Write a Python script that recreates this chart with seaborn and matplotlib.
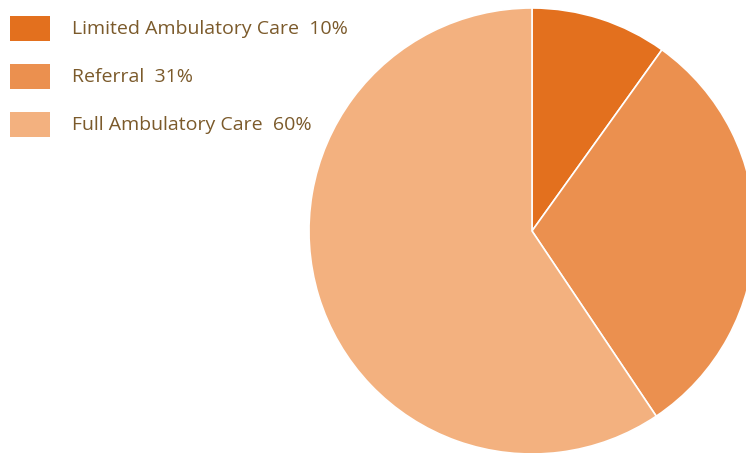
import matplotlib
matplotlib.use("Agg")
import matplotlib.pyplot as plt
from matplotlib.patches import Rectangle
import seaborn as sns

# --- data ------------------------------------------------------------
categories = ["Limited Ambulatory Care", "Referral", "Full Ambulatory Care"]
shares = [10, 31, 60]
colors = ["#E3701E", "#EB904F", "#F3B17F"]
text_color = "#7B5A2B"

sns.set_theme(style="white")
plt.rcParams["font.family"] = ["Open Sans", "DejaVu Sans"]

W, H = 746, 453
fig = plt.figure(figsize=(W / 100, H / 100), dpi=100)

# pie placed in pixel coordinates (centre 532,231 from top, radius 223)
cx, cy, r = 532, 231, 223
ax = fig.add_axes([(cx - r) / W, (H - cy - r) / H, 2 * r / W, 2 * r / H])
ax.pie(shares, colors=sns.color_palette(colors), startangle=90, counterclock=False,
       radius=1, wedgeprops=dict(edgecolor="white", linewidth=1.2))
ax.set_xlim(-1, 1)
ax.set_ylim(-1, 1)
ax.set_aspect("equal")
ax.axis("off")

# --- legend ----------------------------------------------------------
for i, (cat, val, col) in enumerate(zip(categories, shares, colors)):
    top = 16 + i * 48
    fig.patches.append(Rectangle((10 / W, (H - top - 25) / H), 40 / W, 25 / H,
                                 transform=fig.transFigure, facecolor=col,
                                 edgecolor="none"))
    fig.text(72 / W, (H - top - 12.5) / H, f"{cat}  {val}%", color=text_color,
             fontsize=14, va="center", ha="left")

fig.savefig("out.png", dpi=100)
